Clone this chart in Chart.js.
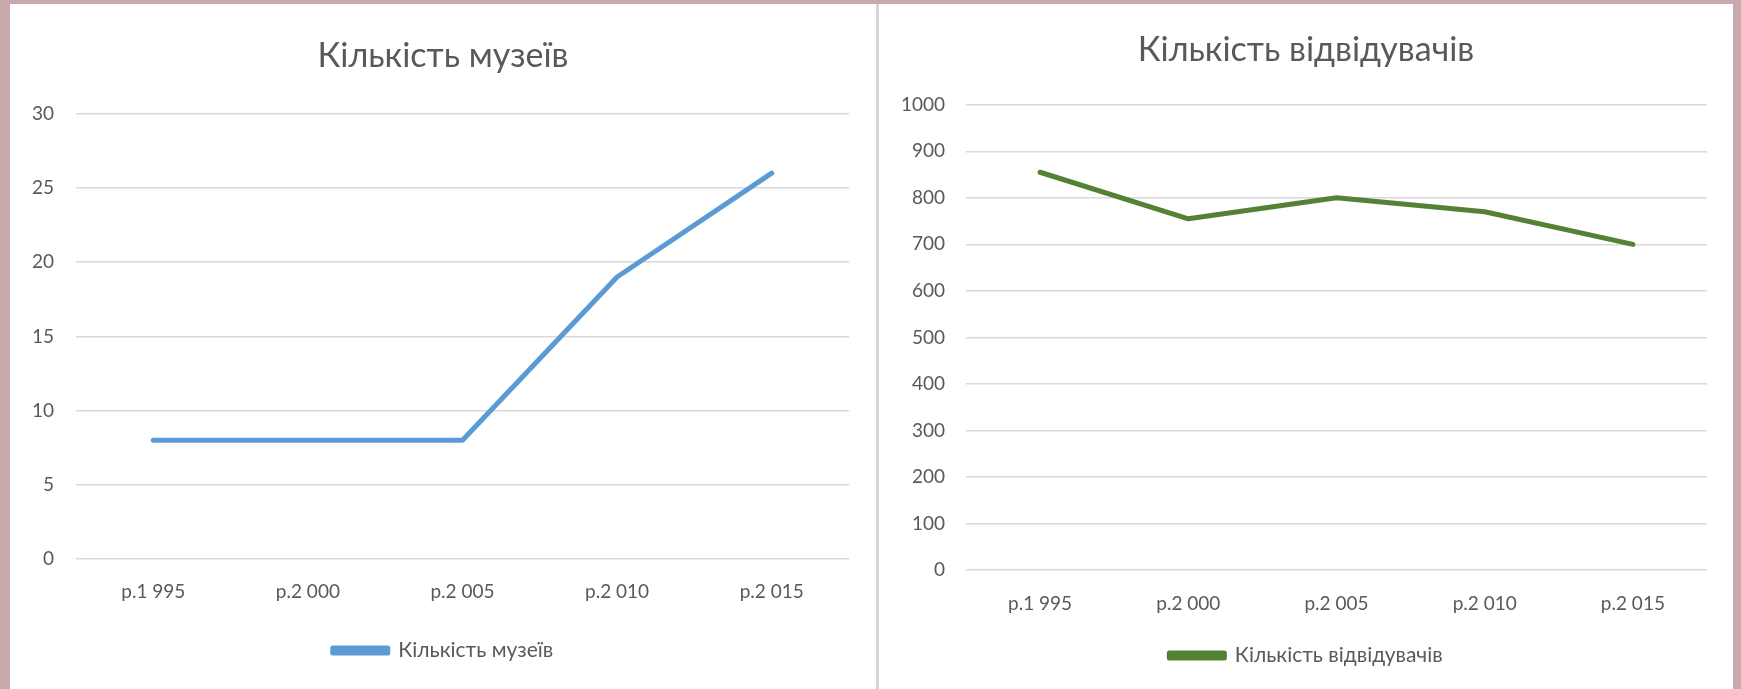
<!DOCTYPE html>
<html>
<head>
<meta charset="utf-8">
<script src="https://cdn.jsdelivr.net/npm/chart.js@4"></script>
<style>
  html, body { margin: 0; padding: 0; }
  body { width: 1741px; height: 689px; background: #c9aaac; position: relative; overflow: hidden; }
  .panel { position: absolute; background: #ffffff; top: 4px; height: 685px; }
  #p1 { left: 10px; width: 866px; }
  #p2 { left: 879px; width: 854px; }
  #div { position: absolute; left: 876px; top: 4px; width: 3px; height: 685px; background: #d6d6d6; }
  canvas { position: absolute; left: 0; top: 0; }
</style>
</head>
<body>
<div class="panel" id="p1"><canvas id="c1"></canvas></div>
<div id="div"></div>
<div class="panel" id="p2"><canvas id="c2"></canvas></div>
<script>
const categories = ["р.1 995", "р.2 000", "р.2 005", "р.2 010", "р.2 015"];
const museumsTitle = "Кількість музеїв";
const museums = [8, 8, 8, 19, 26];
const museumTicks = [0, 5, 10, 15, 20, 25, 30];
const visitorsTitle = "Кількість відвідувачів";
const visitors = [855, 755, 800, 770, 700];
const visitorTicks = [0, 100, 200, 300, 400, 500, 600, 700, 800, 900, 1000];

const FONT = "Lato, 'Open Sans', sans-serif";
const TXT = "#595959";
const GRID = "#d9d9d9";

function makeChart(id, w, h, cfg) {
  const cv = document.getElementById(id);
  cv.width = w; cv.height = h;
  cv.style.width = w + "px"; cv.style.height = h + "px";
  return new Chart(cv, {
    type: "line",
    data: {
      labels: categories,
      datasets: [{
        label: cfg.title,
        data: cfg.data,
        borderColor: cfg.color,
        backgroundColor: cfg.color,
        borderWidth: 5,
        pointRadius: 0,
        tension: 0,
        borderCapStyle: "round",
        borderJoinStyle: "round",
        fill: false,
        yAxisID: "y"
      }]
    },
    options: {
      responsive: false,
      animation: false,
      devicePixelRatio: 1,
      layout: { padding: { left: 0, right: 0, top: 0, bottom: cfg.padBottom } },
      plugins: {
        tooltip: { enabled: false },
        title: {
          display: true,
          text: cfg.title,
          color: TXT,
          font: { family: FONT, size: 34, weight: "normal", lineHeight: 1.2 },
          padding: { top: cfg.titleTop, bottom: cfg.titleBottom }
        },
        legend: {
          position: "bottom",
          labels: {
            boxWidth: 55,
            boxHeight: 5,
            padding: 10,
            color: TXT,
            font: { family: FONT, size: 21 }
          }
        }
      },
      scales: {
        x: {
          offset: true,
          grid: { display: false, drawTicks: false },
          border: { display: false },
          ticks: { color: TXT, font: { family: FONT, size: 19 }, padding: cfg.xPad, maxRotation: 0 },
          afterFit: s => { s.height = cfg.xHeight; }
        },
        y: {
          position: "left",
          min: cfg.ticks[0],
          max: cfg.ticks[cfg.ticks.length - 1],
          afterBuildTicks: s => { s.ticks = cfg.ticks.map(v => ({ value: v })); },
          grid: { color: GRID, lineWidth: 1.5, drawTicks: false },
          border: { display: false },
          ticks: {
            color: TXT, font: { family: FONT, size: 19 }, padding: cfg.yPad,
            callback: v => String(v)
          },
          afterFit: s => { s.width = cfg.yWidth; }
        },
        yRight: {
          position: "right",
          display: true,
          grid: { display: false, drawTicks: false },
          border: { display: false },
          ticks: { display: false },
          afterFit: s => { s.width = cfg.rightWidth; }
        }
      }
    }
  });
}

makeChart("c1", 866, 685, {
  title: museumsTitle, data: museums, color: "#5b9bd5", ticks: museumTicks,
  padBottom: 18, titleTop: 32, titleBottom: 37,
  yWidth: 66, rightWidth: 27, yPad: 22, xPad: 21, xHeight: 71
});

makeChart("c2", 854, 685, {
  title: visitorsTitle, data: visitors, color: "#548235", ticks: visitorTicks,
  padBottom: 13, titleTop: 26, titleBottom: 34,
  yWidth: 87, rightWidth: 26, yPad: 21, xPad: 22, xHeight: 65
});
</script>
</body>
</html>
